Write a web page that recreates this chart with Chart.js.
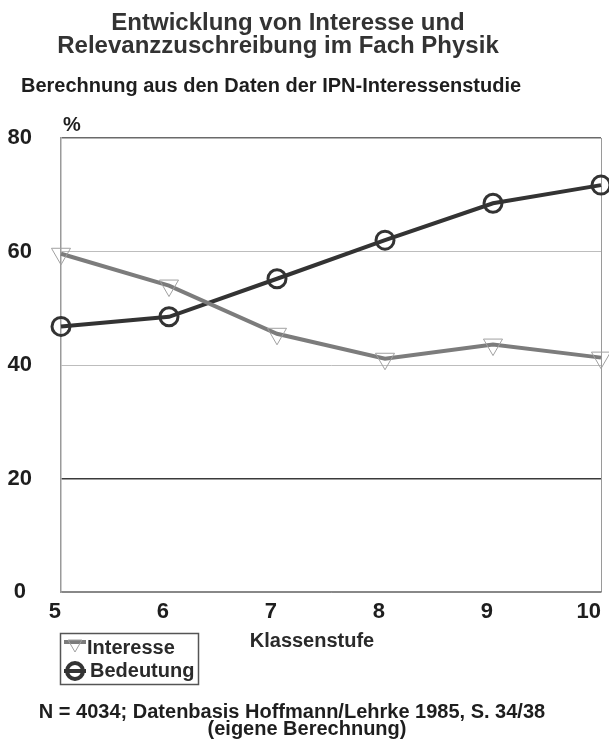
<!DOCTYPE html>
<html>
<head>
<meta charset="utf-8">
<script src="https://cdn.jsdelivr.net/npm/chart.js@4/dist/chart.umd.min.js"></script>
<style>
  html, body { margin: 0; padding: 0; background: #fff; overflow: hidden; }
  #wrap { position: relative; width: 609px; height: 741px; overflow: hidden; }
  canvas { display: block; }
</style>
</head>
<body>
<div id="wrap"><canvas id="c" width="613" height="741"></canvas></div>
<script>
// ---- Data ----
const grades = ['5', '6', '7', '8', '9', '10'];
const interesse = [59.6, 54.0, 45.5, 41.1, 43.6, 41.3];
const bedeutung = [46.8, 48.5, 55.2, 62.0, 68.5, 71.7];
const yTicks = [0, 20, 40, 60, 80];
const seriesNames = ['Interesse', 'Bedeutung'];
const titleLines = ['Entwicklung von Interesse und', 'Relevanzzuschreibung im Fach Physik'];
const subtitleText = 'Berechnung aus den Daten der IPN-Interessenstudie';
const yUnit = '%';
const xTitle = 'Klassenstufe';
const footerLines = ['N = 4034; Datenbasis Hoffmann/Lehrke 1985, S. 34/38', '(eigene Berechnung)'];

const FONT = "'Liberation Sans', Arial, Helvetica, sans-serif";

const textPlugin = {
  id: 'texts',
  afterDraw(chart) {
    const ctx = chart.ctx;
    ctx.save();
    ctx.textBaseline = 'alphabetic';
    // Title
    ctx.fillStyle = '#333';
    ctx.font = 'bold 24px ' + FONT;
    ctx.textAlign = 'center';
    ctx.fillText(titleLines[0], 288, 30);
    ctx.fillText(titleLines[1], 278, 53);
    // Subtitle
    ctx.fillStyle = '#1e1e1e';
    ctx.font = 'bold 20px ' + FONT;
    ctx.textAlign = 'left';
    ctx.fillText(subtitleText, 21, 92);
    // Unit
    ctx.fillText(yUnit, 63, 131);
    // X axis title
    ctx.fillStyle = '#2a2a2a';
    ctx.textAlign = 'center';
    ctx.fillText(xTitle, 312, 647);
    // Footer
    ctx.fillStyle = '#1e1e1e';
    ctx.fillText(footerLines[0], 292, 718);
    ctx.fillText(footerLines[1], 307, 735);

    // Legend
    ctx.strokeStyle = '#555';
    ctx.lineWidth = 1.5;
    ctx.strokeRect(60.5, 633.5, 138, 51);
    const rows = [{y: 644, ty: 654}, {y: 671, ty: 677}];
    chart.data.datasets.forEach((ds, i) => {
      const r = rows[i];
      ctx.strokeStyle = ds.borderColor;
      ctx.lineWidth = ds.borderWidth;
      ctx.beginPath();
      const ly = i === 0 ? r.y - 2 : r.y;
      ctx.moveTo(64, ly); ctx.lineTo(86, ly);
      ctx.stroke();
      ctx.strokeStyle = ds.pointBorderColor;
      ctx.fillStyle = ds.pointBackgroundColor;
      ctx.lineWidth = i === 0 ? ds.pointBorderWidth : 4;
      Chart.helpers.drawPoint(ctx, {
        pointStyle: ds.pointStyle,
        rotation: ds.pointRotation || 0,
        radius: 8,
        borderWidth: ctx.lineWidth
      }, 75, r.y);
      ctx.fillStyle = '#2a2a2a';
      ctx.font = 'bold 20px ' + FONT;
      ctx.textAlign = 'left';
      ctx.fillText(ds.label, i === 0 ? 87 : 90, r.ty);
    });
    ctx.restore();
  }
};

const gridColorFor = (v) => {
  if (v === 20) return '#3a3a3a';
  if (v === 80) return '#6a6a6a';
  if (v === 0) return '#888';
  return '#bdbdbd';
};

new Chart(document.getElementById('c'), {
  type: 'line',
  data: {
    labels: grades,
    datasets: [
      {
        label: seriesNames[0],
        data: interesse,
        borderColor: '#7c7c7c',
        borderWidth: 4,
        pointStyle: 'triangle',
        pointRotation: 180,
        pointRadius: 11,
        pointBorderWidth: 1,
        pointBorderColor: '#a0a0a0',
        pointBackgroundColor: 'rgba(255,255,255,0)',
        tension: 0,
        clip: false
      },
      {
        label: seriesNames[1],
        data: bedeutung,
        borderColor: '#333333',
        borderWidth: 4,
        pointStyle: 'circle',
        pointRadius: 9,
        pointBorderWidth: 3,
        pointBorderColor: '#333333',
        pointBackgroundColor: 'rgba(255,255,255,0)',
        tension: 0,
        clip: false
      }
    ]
  },
  options: {
    responsive: false,
    animation: false,
    devicePixelRatio: 1,
    layout: { padding: { left: 0, right: 0, top: 138, bottom: 0 } },
    plugins: {
      legend: { display: false },
      title: { display: false },
      tooltip: { enabled: false }
    },
    scales: {
      x: {
        type: 'category',
        offset: false,
        grid: {
          drawTicks: false,
          lineWidth: 1,
          color: (c) => (c.index === grades.length - 1 ? '#9a9a9a' : 'rgba(0,0,0,0)')
        },
        border: { display: true, color: '#888', width: 1.5 },
        ticks: {
          color: '#1e1e1e',
          font: { family: FONT, size: 22, weight: 'bold' },
          padding: 7,
          align: 'end',
          maxRotation: 0,
          autoSkip: false
        },
        afterFit: (s) => { s.height = 149; }
      },
      y: {
        min: 0,
        max: 80,
        afterBuildTicks: (s) => { s.ticks = yTicks.map(v => ({ value: v })); },
        grid: {
          drawTicks: false,
          lineWidth: (c) => (c.tick && (c.tick.value === 20 || c.tick.value === 80) ? 1.5 : 1),
          color: (c) => gridColorFor(c.tick ? c.tick.value : -1)
        },
        border: { display: true, color: '#9a9a9a', width: 1.5 },
        ticks: {
          color: '#1e1e1e',
          font: { family: FONT, size: 22, weight: 'bold' },
          padding: 29,
          crossAlign: 'center'
        },
        afterFit: (s) => { s.width = 61; }
      }
    }
  },
  plugins: [textPlugin]
});
</script>
</body>
</html>
